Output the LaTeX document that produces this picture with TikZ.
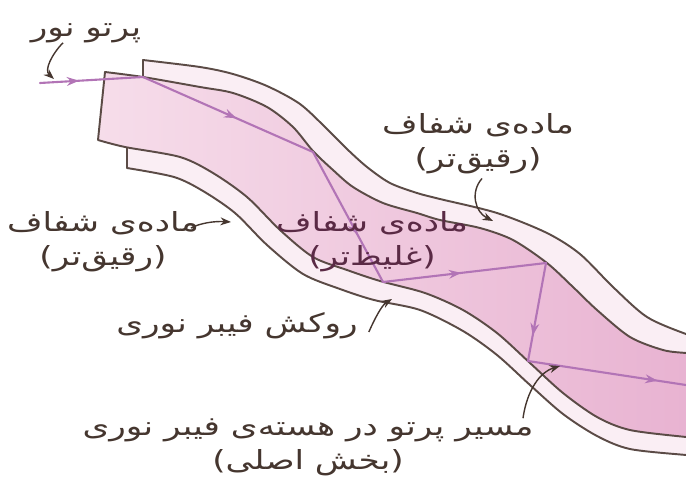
\documentclass[tikz,border=0pt]{standalone}
\usepackage{fontspec}
\usepackage{xcolor}
\usepackage{tikz}
\usetikzlibrary{arrows.meta,calc,decorations.markings}
\TeXXeTstate=1
\newfontfamily\fa[Script=Arabic,FakeStretch=1.3]{DejaVu Sans}
\definecolor{edge}{HTML}{5B4B46}
\definecolor{inkbrown}{HTML}{45362F}
\definecolor{coreink}{HTML}{5A2A45}
\definecolor{raycol}{HTML}{B274B6}
\definecolor{cladfill}{HTML}{FAEEF4}
\definecolor{coreleft}{HTML}{F6DDEA}
\definecolor{coreright}{HTML}{E8B2D1}
\tikzset{
  lbl/.style={font=\fa\fontsize{15}{19.5}\selectfont, text=inkbrown, align=center, inner sep=1pt},
  pointer/.style={draw=inkbrown, line width=0.8pt, -{Stealth[length=6pt,width=4.5pt]}},
  ray/.style={draw=raycol, line width=1.2pt, line cap=round},
  raytip/.style={postaction={decorate}, decoration={markings, mark=at position #1 with {\arrow{Stealth[length=7pt,width=5pt]}}}}
}

\begin{document}
\begin{tikzpicture}[x=0.02cm, y=-0.02cm]
\useasboundingbox (0,0) rectangle (686,481);
\clip (0,0) rectangle (686,481);
\filldraw[fill=cladfill, draw=edge, line width=1.1pt, line join=round]
  plot[smooth] coordinates {(143,60) (200,67) (233,74) (267,86) (300,104) (327,129) (347,149) (367,167) (390,183) (417,193) (440,199) (497,213) (547,233) (580,254) (613,287) (647,317) (686,334) (700,337)}
  -- plot[smooth] coordinates {(700,456) (686,455) (630,449) (597,436) (563,414) (530,385) (497,355) (463,331) (420,310) (374,300) (340,289) (303,274) (267,245) (235,213) (203,191) (174,177) (127,168)}
  -- (127,147) -- (143,77) -- cycle;
\shadedraw[left color=coreleft, right color=coreright, draw=edge, line width=1.1pt, line join=round]
  plot[smooth] coordinates {(105,72) (143,77) (200,87) (233,93) (267,107) (293,127) (313,151) (333,170) (353,187) (383,203) (417,213) (440,220) (480,228) (513,240) (547,263) (573,287) (597,310) (630,337) (663,350) (686,353) (700,354)}
  -- plot[smooth] coordinates {(700,438) (686,437) (630,430) (597,417) (563,393) (530,363) (497,333) (463,310) (425,293) (380,281) (347,270) (313,257) (280,230) (247,197) (213,173) (180,157) (125,147) (98,140)}
  -- cycle;
\coordinate (r0) at (40,83);
\coordinate (r1) at (143,77);
\coordinate (r2) at (313,152);
\coordinate (r3) at (383,282);
\coordinate (r4) at (546,263);
\coordinate (r5) at (528,361);
\coordinate (r6) at (686,385);
\foreach \a/\b/\p in {r0/r1/0.38, r1/r2/0.55, r2/r3/0.64, r3/r4/0.48, r4/r5/0.74, r5/r6/0.82}
  \draw[ray, raytip=\p] (\a) -- (\b);
\node[lbl] (light) at (86,33) {\beginR پرتو نور\endR};
\node[lbl] (cladtop) at (478,144) {\beginR ماده‌ی شفاف\endR\\\beginR(رقیق‌تر)\endR};
\node[lbl] (cladleft) at (103,242) {\beginR ماده‌ی شفاف\endR\\\beginR(رقیق‌تر)\endR};
\node[lbl, text=coreink] (core) at (372,242) {\beginR ماده‌ی شفاف\endR\\\beginR(غلیظ‌تر)\endR};
\node[lbl] (coat) at (237,326) {\beginR روکش فیبر نوری\endR};
\node[lbl] (route) at (308,447) {\beginR مسیر پرتو در هسته‌ی فیبر نوری\endR\\\beginR(بخش اصلی)\endR};
\coordinate (lighttip) at (54,79);
\coordinate (toptip) at (493,221);
\coordinate (lefttip) at (231,222);
\coordinate (coattip) at (392,299);
\coordinate (routetip) at (560,366);
\draw[pointer] ($(light.south)+(-23,-2)$) .. controls (52,54) and (44,70) .. (lighttip);
\draw[pointer] ($(cladtop.south)+(4,2)$) .. controls (470,192) and (475,212) .. (toptip);
\draw[pointer] ($(cladleft.east)+(-10,-14)$) .. controls (200,223) and (215,221) .. (lefttip);
\draw[pointer] ($(coat.east)+(9,6)$) .. controls (375,318) and (382,305) .. (coattip);
\draw[pointer] ($(route.north)+(215,2)$) .. controls (527,390) and (540,372) .. (routetip);
\end{tikzpicture}
\end{document}
